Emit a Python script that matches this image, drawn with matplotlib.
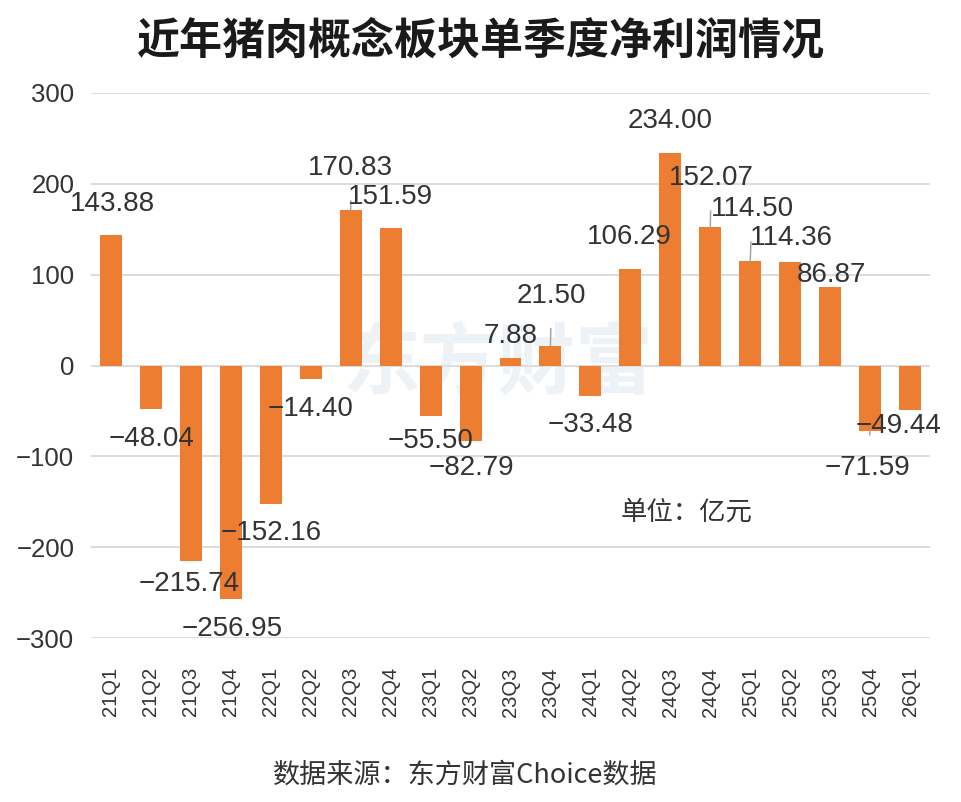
import matplotlib
matplotlib.use('Agg')
import matplotlib.pyplot as plt

plt.rcParams['font.family'] = ['Liberation Sans', 'Noto Sans CJK SC', 'DejaVu Sans']

quarters = ['21Q1', '21Q2', '21Q3', '21Q4', '22Q1', '22Q2', '22Q3', '22Q4',
            '23Q1', '23Q2', '23Q3', '23Q4', '24Q1', '24Q2', '24Q3', '24Q4',
            '25Q1', '25Q2', '25Q3', '25Q4', '26Q1']
profit = [143.88, -48.04, -215.74, -256.95, -152.16, -14.40, 170.83, 151.59,
          -55.50, -82.79, 7.88, 21.50, -33.48, 106.29, 234.00, 152.07,
          114.50, 114.36, 86.87, -71.59, -49.44]
yticks = [-300, -200, -100, 0, 100, 200, 300]

# label offsets in pixels from the bar end (Excel-style placement), leader flag
label_offsets = [(1, 31), (1, -30), (-2, -23), (1, -30), (0, -29), (0, -30),
                 (0, 42), (0, 31), (0, -25), (1, -27), (0, 22), (1, 50),
                 (0, -29), (-1, 32), (0, 32), (1, 49), (2, 52), (1, 24),
                 (1, 12), (-3, -37), (-11, -16)]
leaders = {6, 11, 15, 16, 19}

BAR = '#ED7D31'
TXT = '#333333'

fig = plt.figure(figsize=(9.62, 8.02), dpi=100)
ax = fig.add_axes([91 / 962, 1 - 638 / 802, (930 - 91) / 962, (638 - 93) / 802])

x = list(range(len(quarters)))
ax.bar(x, profit, width=0.55, color=BAR, zorder=3)

ax.set_xlim(-0.5, len(quarters) - 0.5)
ax.set_ylim(-300, 300)
ax.set_yticks(yticks)
ax.set_yticklabels([str(t).replace('-', '\u2212') for t in yticks],
                   fontsize=18.5, color=TXT)
ax.set_xticks(x)
ax.set_xticklabels(quarters, rotation=90, fontsize=14.5, color=TXT)
ax.tick_params(axis='both', length=0)
ax.tick_params(axis='y', pad=12)
ax.tick_params(axis='x', pad=21)
ax.yaxis.grid(True, color='#d9d9d9', lw=1.3)
ax.set_axisbelow(True)
for s in ax.spines.values():
    s.set_visible(False)

for i, v in enumerate(profit):
    dx, dy = label_offsets[i]
    txt = f'{v:.2f}'.replace('-', '\u2212')
    kw = {}
    if i in leaders:
        kw['arrowprops'] = dict(arrowstyle='-', color='#a6a6a6', lw=1.1,
                                shrinkA=12, shrinkB=0)
    ax.annotate(txt, xy=(i, v), xytext=(dx, dy), textcoords='offset pixels',
                ha='center', va='center', fontsize=20, color=TXT,
                zorder=5, **kw)

# watermark
ax.text(0.485, 0.5, '东方财富', transform=ax.transAxes, ha='center', va='center',
        fontsize=56, fontweight='bold', color='#dce6f0', alpha=0.5,
        family=['Noto Sans CJK SC'], zorder=1)

fig.text(687 / 962, 1 - 512 / 802, '单位：亿元', ha='center', va='center',
         fontsize=19, color=TXT, family=['Noto Sans CJK SC'])

fig.text(0.5, 1 - 40 / 802, '近年猪肉概念板块单季度净利润情况', ha='center',
         va='center', fontsize=31, fontweight='bold', color='#1a1a1a',
         family=['Noto Sans CJK SC'])
fig.text(465 / 962, 1 - 775 / 802, '数据来源：东方财富Choice数据', ha='center',
         va='center', fontsize=19.5, color=TXT,
         family=['Noto Sans CJK SC', 'DejaVu Sans'])

fig.savefig('out.png', dpi=100)
